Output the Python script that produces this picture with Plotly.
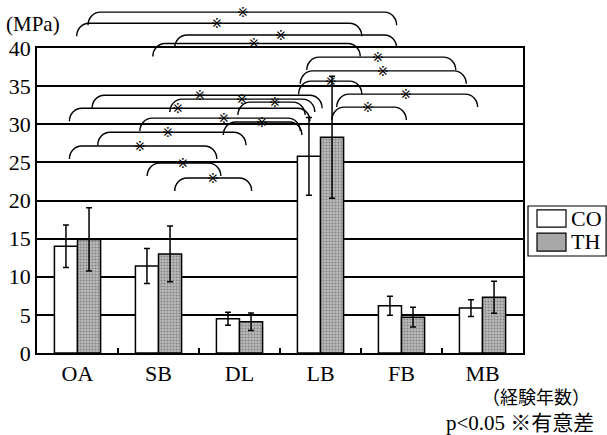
import plotly.graph_objects as go

# ---- data ----
categories = ["OA", "SB", "DL", "LB", "FB", "MB"]
co_mean = [14.0, 11.4, 4.5, 25.8, 6.2, 5.9]
co_sd = [2.8, 2.3, 0.85, 5.1, 1.25, 1.1]
th_mean = [14.9, 13.0, 4.1, 28.3, 4.7, 7.3]
th_sd = [4.15, 3.65, 1.15, 8.0, 1.3, 2.1]
y_ticks = [0, 5, 10, 15, 20, 25, 30, 35, 40]

# significance brackets (x in category-index units, level in MPa)
sig_left = [0.13, -0.01, 1.20, 0.93, 2.83, 2.75, 2.73, 3.20, 3.14, 0.18,
             1.14, 1.98, -0.10, 0.77, 1.80, 0.25, -0.10, 0.86, 1.20]
sig_right = [3.94, 3.51, 3.94, 3.49, 4.67, 4.80, 3.51, 4.94, 4.06, 3.02,
              2.93, 2.81, 2.87, 2.75, 2.77, 2.08, 1.72, 1.77, 2.15]
sig_level = [44.7, 43.25, 41.7, 40.6, 38.8, 37.0, 35.65, 33.95, 32.25, 33.8,
              33.3, 32.9, 32.1, 30.8, 30.3, 28.95, 27.15, 24.9, 22.95]
sig_star = [2.04, 1.72, 2.51, 2.18, 3.71, 3.77, 3.13, 4.06, 3.59, 1.51,
             2.03, 2.44, 1.24, 1.81, 2.28, 1.12, 0.77, 1.30, 1.67]

Y_MAX = 40
SERIF = "Liberation Serif, Times New Roman, serif"
CJK = "Liberation Serif, Noto Sans CJK JP, sans-serif"

fig = go.Figure()
fig.add_trace(go.Bar(
    name="CO", x=categories, y=co_mean,
    error_y=dict(type="data", array=co_sd, color="black", thickness=1.5, width=3),
    marker=dict(color="white", line=dict(color="black", width=1.5)),
))
fig.add_trace(go.Bar(
    name="TH", x=categories, y=th_mean,
    error_y=dict(type="data", array=th_sd, color="black", thickness=1.5, width=3),
    marker=dict(color="#b0b0b0", line=dict(color="black", width=1.5),
                pattern=dict(shape=".", fgcolor="#4a4a4a", bgcolor="#bcbcbc",
                             size=3, solidity=0.4)),
))

def px(x):
    return (x + 0.5) / len(categories)

def py(y):
    return y / Y_MAX

shapes = []
annotations = []
rx = 0.15
drop = 1.7
for l, r, lv, sx in zip(sig_left, sig_right, sig_level, sig_star):
    yb = lv - drop
    path = (f"M{px(l)},{py(yb)} "
            f"C{px(l)},{py(yb + 0.55 * drop)} {px(l + rx * 0.45)},{py(lv)} {px(l + rx)},{py(lv)} "
            f"L{px(r - rx)},{py(lv)} "
            f"C{px(r - rx * 0.45)},{py(lv)} {px(r)},{py(yb + 0.55 * drop)} {px(r)},{py(yb)}")
    shapes.append(dict(type="path", path=path, xref="paper", yref="paper",
                       line=dict(color="black", width=1.4)))
    annotations.append(dict(text="※", x=px(sx), y=py(lv), xref="paper", yref="paper",
                            showarrow=False, xanchor="center", yanchor="middle",
                            font=dict(family="DejaVu Sans", size=14, color="black")))

# manual legend
shapes.append(dict(type="rect", xref="paper", yref="paper", x0=1.0103, x1=1.171,
                   y0=0.318, y1=0.482, line=dict(color="black", width=1.2),
                   fillcolor="white"))
shapes.append(dict(type="rect", xref="paper", yref="paper", x0=1.0288, x1=1.0885,
                   y0=0.413, y1=0.469, line=dict(color="black", width=1.2),
                   fillcolor="white"))
shapes.append(dict(type="rect", xref="paper", yref="paper", x0=1.0288, x1=1.0885,
                   y0=0.334, y1=0.393, line=dict(color="black", width=1.2),
                   fillcolor="#a8a8a8"))
annotations.append(dict(text="CO", x=1.095, y=0.441, xref="paper", yref="paper",
                        showarrow=False, xanchor="left", yanchor="middle",
                        font=dict(family=SERIF, size=22, color="black")))
annotations.append(dict(text="TH", x=1.095, y=0.364, xref="paper", yref="paper",
                        showarrow=False, xanchor="left", yanchor="middle",
                        font=dict(family=SERIF, size=22, color="black")))

annotations.append(dict(text="(MPa)", x=-0.068, y=1.078, xref="paper", yref="paper",
                        showarrow=False, xanchor="left", yanchor="middle",
                        font=dict(family=SERIF, size=21, color="black")))
annotations.append(dict(text="（経験年数）", x=1.142, y=-0.141, xref="paper", yref="paper",
                        showarrow=False, xanchor="right", yanchor="middle",
                        font=dict(family="Noto Sans CJK JP", size=18, color="black")))
annotations.append(dict(text="p<0.05 ※有意差", x=1.15, y=-0.229, xref="paper", yref="paper",
                        showarrow=False, xanchor="right", yanchor="middle",
                        font=dict(family=CJK, size=21, color="black")))

fig.update_layout(
    width=607, height=435,
    margin=dict(l=37, r=84, t=48, b=82, autoexpand=False),
    paper_bgcolor="white", plot_bgcolor="white",
    barmode="group", bargap=0.43, bargroupgap=0,
    showlegend=False,
    shapes=shapes, annotations=annotations,
    font=dict(family=SERIF, size=22, color="black"),
)
fig.update_xaxes(
    automargin=False,
    showline=True, mirror=True, linecolor="black", linewidth=1.5,
    ticks="inside", tickson="boundaries", ticklen=5, tickwidth=1.5, tickcolor="black",
    showgrid=False, tickfont=dict(family=SERIF, size=22, color="black"),
)
fig.update_yaxes(
    automargin=False,
    range=[0, Y_MAX], tickvals=y_ticks, ticks="",
    showline=True, mirror=True, linecolor="black", linewidth=1.5,
    showgrid=True, gridcolor="black", gridwidth=1.5, zeroline=False,
    tickfont=dict(family=SERIF, size=22, color="black"),
)

fig.write_html("out.html", config={"displayModeBar": False},
               post_script="document.body.style.margin='0';")
